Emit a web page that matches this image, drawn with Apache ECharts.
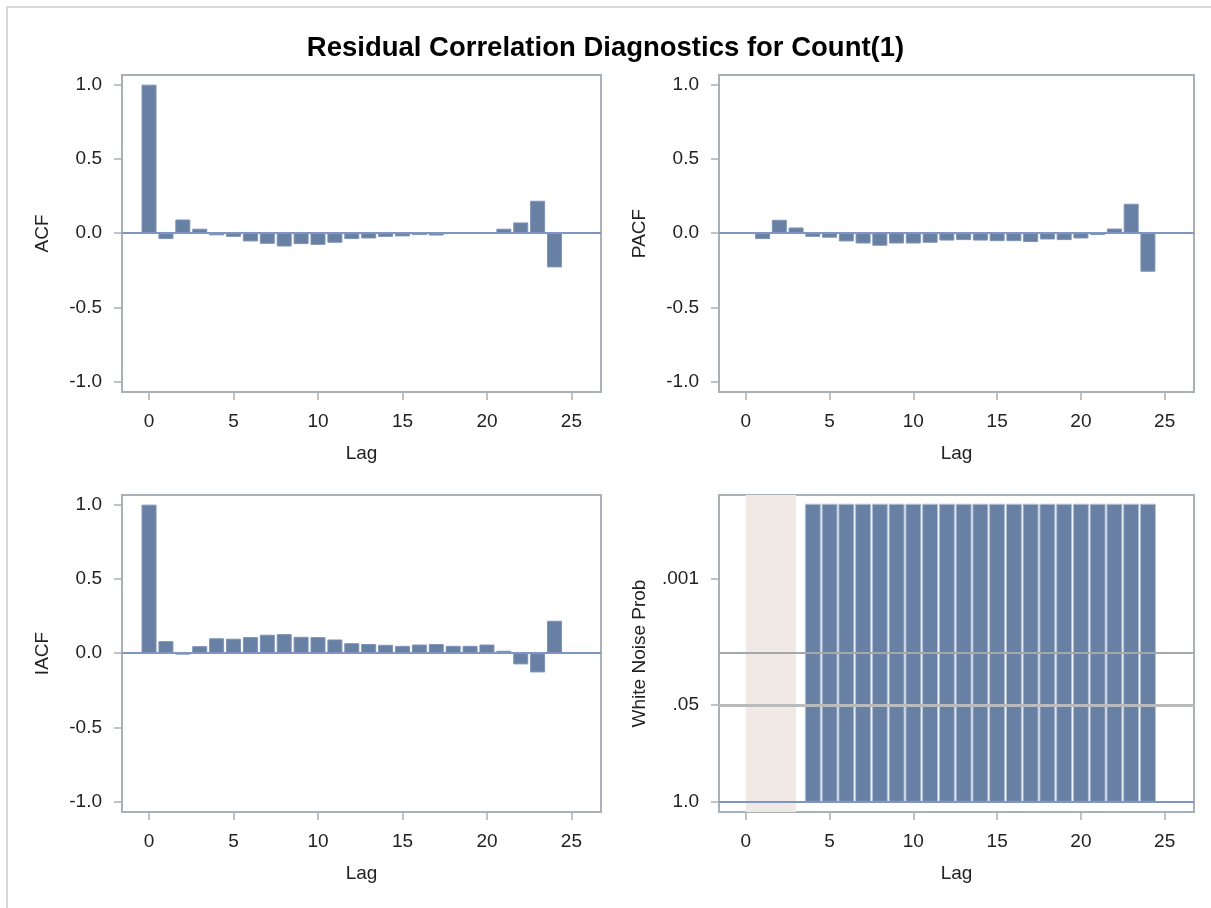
<!DOCTYPE html>
<html>
<head>
<meta charset="utf-8">
<script src="https://cdn.jsdelivr.net/npm/echarts@6/dist/echarts.min.js"></script>
<style>
html, body { margin: 0; padding: 0; background: #fff; }
#main { width: 1211px; height: 908px; }
</style>
</head>
<body>
<div id="main"></div>
<script>
var lags = [0, 1, 2, 3, 4, 5, 6, 7, 8, 9, 10, 11, 12, 13, 14, 15, 16, 17, 18, 19, 20, 21, 22, 23, 24];
var acfValues = [1.0, -0.04, 0.092, 0.03, -0.015, -0.025, -0.056, -0.072, -0.09, -0.074, -0.079, -0.065, -0.04,
    -0.036, -0.025, -0.022, -0.013, -0.016, -0.003, -0.002, 0.005, 0.03, 0.072, 0.218, -0.231];
var pacfLags = [1, 2, 3, 4, 5, 6, 7, 8, 9, 10, 11, 12, 13, 14, 15, 16, 17, 18, 19, 20, 21, 22, 23, 24];
var pacfValues = [-0.04, 0.09, 0.038, -0.025, -0.031, -0.056, -0.07, -0.085, -0.07, -0.07, -0.065, -0.05,
    -0.047, -0.05, -0.054, -0.054, -0.06, -0.043, -0.047, -0.036, -0.013, 0.031, 0.198, -0.26];
var iacfValues = [1.0, 0.081, -0.01, 0.047, 0.1, 0.097, 0.108, 0.124, 0.128, 0.11, 0.108, 0.092, 0.067,
    0.061, 0.056, 0.049, 0.058, 0.061, 0.049, 0.049, 0.058, 0.016, -0.076, -0.13, 0.218];
// white noise test probabilities (all below .0001, shown clipped at .0001)
var wnLags = [4, 5, 6, 7, 8, 9, 10, 11, 12, 13, 14, 15, 16, 17, 18, 19, 20, 21, 22, 23, 24];
var wnProb = [0.0001, 0.0001, 0.0001, 0.0001, 0.0001, 0.0001, 0.0001, 0.0001, 0.0001, 0.0001, 0.0001,
    0.0001, 0.0001, 0.0001, 0.0001, 0.0001, 0.0001, 0.0001, 0.0001, 0.0001, 0.0001];
var wnShade = [0, 3];
var wnRefProbs = [0.01, 0.05];
var xTicks = [0, 5, 10, 15, 20, 25];
var corrTicks = [-1, -0.5, 0, 0.5, 1];
var wnTickProbs = [1.0, 0.05, 0.001];
var wnTickLabels = ['1.0', '.05', '.001'];

var frameColor = '#a9b0b6';
var barColor = '#6780a4';
var zeroColor = '#7f96c3';
var textColor = '#222';
var fontFamily = 'Liberation Sans, Arial, sans-serif';

function negLog(p) { return -Math.log10(p); }

var grids = [
    {left: 122, top: 75, width: 479, height: 317},
    {left: 719, top: 75, width: 475, height: 317},
    {left: 122, top: 495, width: 479, height: 317},
    {left: 719, top: 495, width: 475, height: 317}
];

function makeX(i) {
    return {
        type: 'value', gridIndex: i, min: -1.6, max: 26.75,
        name: 'Lag', nameLocation: 'middle', nameGap: 52,
        nameTextStyle: {fontSize: 19, color: textColor, fontFamily: fontFamily},
        axisLine: {show: false, onZero: false},
        axisTick: {show: true, length: 8, customValues: xTicks, lineStyle: {color: frameColor, width: 1.5}},
        axisLabel: {customValues: xTicks, margin: 20, fontSize: 19, color: textColor, fontFamily: fontFamily},
        splitLine: {show: false}
    };
}

function makeY(i, name, min, max, ticks, fmt) {
    return {
        type: 'value', gridIndex: i, min: min, max: max,
        name: name, nameLocation: 'middle', nameGap: 70,
        nameTextStyle: {fontSize: 19, color: textColor, fontFamily: fontFamily},
        axisLine: {show: false, onZero: false},
        axisTick: {show: true, length: 8, customValues: ticks, lineStyle: {color: frameColor, width: 1.5}},
        axisLabel: {customValues: ticks, margin: 20, fontSize: 19, color: textColor, fontFamily: fontFamily, formatter: fmt},
        splitLine: {show: false}
    };
}

function corrFmt(v) { return v.toFixed(1); }
function wnFmt(v) {
    for (var k = 0; k < wnTickProbs.length; k++) {
        if (Math.abs(negLog(wnTickProbs[k]) - v) < 1e-6) return wnTickLabels[k];
    }
    return '';
}

var zeroLine = {
    silent: true, symbol: 'none', label: {show: false},
    lineStyle: {color: zeroColor, width: 2, type: 'solid'},
    data: [{yAxis: 0}]
};

function corrSeries(i, xs, ys) {
    return {
        type: 'bar', xAxisIndex: i, yAxisIndex: i, barWidth: 15,
        itemStyle: {color: barColor, borderColor: '#7e93b7', borderWidth: 1},
        data: xs.map(function (x, k) { return [x, ys[k]]; }),
        markLine: zeroLine
    };
}

var chart = echarts.init(document.getElementById('main'));
chart.setOption({
    animation: false,
    backgroundColor: '#fff',
    title: {
        text: 'Residual Correlation Diagnostics for Count(1)',
        left: 'center', top: 29,
        textStyle: {fontSize: 27.5, fontWeight: 'bold', color: '#000', fontFamily: fontFamily}
    },
    graphic: [{
        type: 'rect', shape: {x: 7, y: 7, width: 1400, height: 1000},
        style: {fill: 'none', stroke: '#d8d8d8', lineWidth: 2}, silent: true
    }],
    grid: grids.map(function (g) {
        return {left: g.left, top: g.top, width: g.width, height: g.height,
            show: true, borderColor: frameColor, borderWidth: 2, backgroundColor: '#fff'};
    }),
    xAxis: [makeX(0), makeX(1), makeX(2), makeX(3)],
    yAxis: [
        makeY(0, 'ACF', -1.07, 1.065, corrTicks, corrFmt),
        makeY(1, 'PACF', -1.07, 1.065, corrTicks, corrFmt),
        makeY(2, 'IACF', -1.07, 1.065, corrTicks, corrFmt),
        makeY(3, 'White Noise Prob', -0.135, 4.117, wnTickProbs.map(negLog), wnFmt)
    ],
    series: [
        corrSeries(0, lags, acfValues),
        corrSeries(1, pacfLags, pacfValues),
        corrSeries(2, lags, iacfValues),
        {
            type: 'bar', xAxisIndex: 3, yAxisIndex: 3, barWidth: 16,
            itemStyle: {color: barColor, borderColor: '#b4c0d6', borderWidth: 1},
            data: wnLags.map(function (x, k) { return [x, negLog(wnProb[k])]; }),
            markArea: {
                silent: true,
                itemStyle: {color: '#f0e9e6'},
                data: [[{xAxis: wnShade[0]}, {xAxis: wnShade[1]}]]
            },
            markLine: {
                silent: true, symbol: 'none', label: {show: false},
                data: [
                    {yAxis: negLog(wnRefProbs[0]), lineStyle: {color: '#a5a8ab', width: 2, type: 'solid'}},
                    {yAxis: negLog(wnRefProbs[1]), lineStyle: {color: '#b9bbbd', width: 3, type: 'solid'}},
                    {yAxis: 0, lineStyle: {color: zeroColor, width: 2, type: 'solid'}}
                ]
            }
        }
    ]
});
</script>
</body>
</html>
